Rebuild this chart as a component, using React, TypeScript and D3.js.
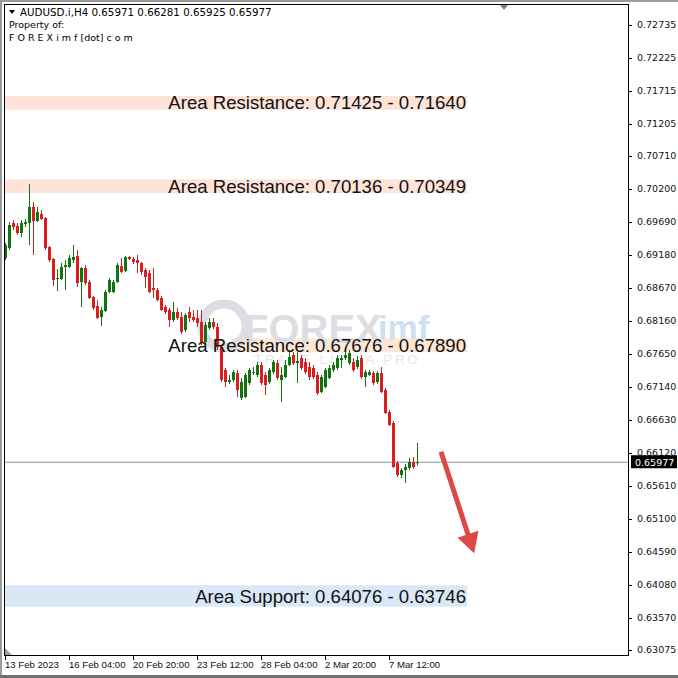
import React from "react";
import * as d3 from "d3";

const opens = [0.69133,0.69288,0.69674,0.69628,0.69520,0.69659,0.69674,0.69922,0.69705,0.69813,0.69751,0.69303,0.69118,0.68809,0.68809,0.68994,0.68994,0.69102,0.69164,0.68762,0.68979,0.68762,0.68531,0.68391,0.68221,0.68314,0.68608,0.68608,0.68762,0.69009,0.68932,0.69149,0.69118,0.69102,0.69056,0.68948,0.68901,0.68670,0.68639,0.68515,0.68376,0.68330,0.68175,0.68299,0.68221,0.68021,0.68299,0.68221,0.68206,0.68144,0.67835,0.68051,0.68144,0.68067,0.67758,0.67402,0.67217,0.67248,0.67356,0.66970,0.66985,0.67201,0.67356,0.67325,0.67480,0.67325,0.67217,0.67371,0.67510,0.67248,0.67294,0.67480,0.67634,0.67510,0.67588,0.67526,0.67449,0.67433,0.67325,0.67062,0.67139,0.67279,0.67402,0.67433,0.67557,0.67588,0.67510,0.67526,0.67449,0.67588,0.67294,0.67325,0.67356,0.67217,0.67356,0.67093,0.66753,0.66583,0.65965,0.65779,0.65856,0.65887,0.65981,0.65971];
const highs = [0.69365,0.69690,0.69721,0.69674,0.69721,0.69736,0.70277,0.69999,0.69922,0.69875,0.69767,0.69319,0.69133,0.68963,0.69056,0.69102,0.69180,0.69334,0.69257,0.68994,0.69025,0.68793,0.68546,0.68484,0.68376,0.68639,0.68824,0.68793,0.69056,0.69133,0.69164,0.69164,0.69149,0.69180,0.69071,0.68979,0.68948,0.68979,0.68670,0.68546,0.68407,0.68361,0.68453,0.68361,0.68299,0.68283,0.68376,0.68330,0.68330,0.68330,0.68144,0.68206,0.68206,0.68129,0.67789,0.67433,0.67325,0.67402,0.67402,0.67279,0.67356,0.67433,0.67449,0.67526,0.67526,0.67371,0.67433,0.67557,0.67557,0.67449,0.67557,0.67711,0.67680,0.67680,0.67634,0.67588,0.67526,0.67480,0.67371,0.67325,0.67433,0.67480,0.67526,0.67634,0.67634,0.67680,0.67711,0.67588,0.67619,0.67634,0.67402,0.67402,0.67387,0.67387,0.67449,0.67124,0.66784,0.66614,0.65996,0.65887,0.65950,0.66042,0.66058,0.66281];
const lows = [0.69102,0.69257,0.69566,0.69489,0.69458,0.69612,0.69334,0.69180,0.69690,0.69721,0.69257,0.69071,0.68700,0.68623,0.68793,0.68639,0.68979,0.69056,0.68685,0.68376,0.68716,0.68500,0.68330,0.68190,0.68082,0.68299,0.68592,0.68592,0.68747,0.68901,0.68917,0.69102,0.69040,0.68901,0.68871,0.68670,0.68592,0.68515,0.68469,0.68314,0.68268,0.68067,0.68144,0.68175,0.67959,0.67990,0.68144,0.68144,0.68067,0.67789,0.67804,0.68021,0.68036,0.67711,0.67217,0.67139,0.67186,0.67217,0.66985,0.66939,0.66970,0.67170,0.67325,0.67294,0.67170,0.67016,0.67186,0.67340,0.67248,0.66908,0.67279,0.67464,0.67480,0.67201,0.67402,0.67340,0.67248,0.67263,0.67016,0.67046,0.67124,0.67263,0.67371,0.67402,0.67433,0.67557,0.67480,0.67371,0.67418,0.67263,0.67139,0.67309,0.67170,0.67186,0.67046,0.66722,0.66537,0.65887,0.65748,0.65733,0.65656,0.65856,0.65872,0.65925];
const closes = [0.69334,0.69643,0.69612,0.69520,0.69674,0.69690,0.69922,0.69705,0.69844,0.69736,0.69288,0.69102,0.68793,0.68824,0.68994,0.69025,0.69133,0.69149,0.68747,0.68979,0.68747,0.68515,0.68361,0.68206,0.68330,0.68608,0.68793,0.68762,0.69025,0.68917,0.69149,0.69118,0.69071,0.69056,0.68917,0.68840,0.68608,0.68639,0.68484,0.68330,0.68299,0.68175,0.68299,0.68206,0.67990,0.68252,0.68206,0.68175,0.68129,0.67820,0.68098,0.68144,0.68067,0.67758,0.67248,0.67217,0.67248,0.67371,0.67093,0.67217,0.67325,0.67402,0.67371,0.67480,0.67201,0.67170,0.67402,0.67526,0.67279,0.67325,0.67480,0.67603,0.67510,0.67541,0.67433,0.67371,0.67294,0.67294,0.67046,0.67294,0.67402,0.67433,0.67480,0.67588,0.67588,0.67634,0.67665,0.67402,0.67557,0.67294,0.67371,0.67371,0.67201,0.67356,0.67062,0.66738,0.66552,0.65903,0.65779,0.65856,0.65903,0.65981,0.65903,0.65977];

const yTicks = [0.72735,0.72225,0.71715,0.71205,0.70710,0.70200,0.69690,0.69180,0.68670,0.68160,0.67650,0.67140,0.66630,0.66120,0.65610,0.65100,0.64590,0.64080,0.63570,0.63075];
const xLabels = ["13 Feb 2023","16 Feb 04:00","20 Feb 20:00","23 Feb 12:00","28 Feb 04:00","2 Mar 20:00","7 Mar 12:00"];
const xLabelIdx = [0,16,32,48,64,80,96];

const zoneLow = [0.71425,0.70136,0.67676,0.63746];
const zoneHigh = [0.71640,0.70349,0.67890,0.64076];
const zoneText = ["Area Resistance: 0.71425 - 0.71640","Area Resistance: 0.70136 - 0.70349","Area Resistance: 0.67676 - 0.67890","Area Support: 0.64076 - 0.63746"];
const zoneFill = ["#fde3d8","#fde3d8","#fde6d4","#d8e8f7"];
const zoneStart = [4,4,232,4];

const lastPrice = 0.65977;
const arrowFrom = [109, 0.6614];
const arrowTo = [117.3, 0.6457];

export default function App() {
  const L = 4, R = 628, T = 4, B = 655;
  const x = d3.scaleLinear().domain([0, 103]).range([5, 417]);
  const y = d3.scaleLinear().domain([0.63075, 0.72735]).range([650, 25]);
  const axisFont = "'DejaVu Sans', Tahoma, sans-serif";
  const xFont = "'Liberation Sans', Arial, sans-serif";
  const green = "#137313";
  const red = "#d81e1e";

  const ax1 = x(arrowFrom[0]), ay1 = y(arrowFrom[1]);
  const ax2 = x(arrowTo[0]), ay2 = y(arrowTo[1]);
  const ang = Math.atan2(ay2 - ay1, ax2 - ax1);
  const hl = 20, hw = 11;
  const bx = ax2 - hl * Math.cos(ang), by = ay2 - hl * Math.sin(ang);
  const px = -Math.sin(ang), py = Math.cos(ang);

  return (
    <svg width={678} height={678} style={{ position: "absolute", left: 0, top: 0, background: "#fff" }}>
      <rect x={0} y={0} width={678} height={678} fill="#fff" />
      <rect x={0} y={0} width={678} height={2} fill="#9a9a9a" />
      <rect x={0} y={0} width={2} height={678} fill="#9a9a9a" />
      <rect x={0} y={675} width={678} height={3} fill="#6f6f6f" />

      {zoneText.map((t, i) => (
        <rect key={"z" + i} x={zoneStart[i]} y={y(zoneHigh[i])} width={467 - zoneStart[i]} height={y(zoneLow[i]) - y(zoneHigh[i])} fill={zoneFill[i]} />
      ))}

      {/* watermark */}
      <g>
        <circle cx={224} cy={326} r={22} fill="none" stroke="#dcdee3" strokeWidth={9} />
        <text x={244} y={343} fontFamily="'Liberation Sans', Arial, sans-serif" fontWeight="bold" fontSize={40} fill="#dcdee3">FOREX</text>
        <text x={378} y={339} fontFamily="'Liberation Sans', Arial, sans-serif" fontWeight="bold" fontSize={34} fill="#cfe1f1">imf</text>
        <text x={254} y={364} fontFamily="'Liberation Sans', Arial, sans-serif" fontSize={13} letterSpacing={3} fill="#e6e6e6">TRADE LIKE A PRO</text>
      </g>

      <line x1={L} x2={R} y1={y(lastPrice)} y2={y(lastPrice)} stroke="#8a98a0" strokeWidth={1} />

      {closes.map((c, i) => {
        const o = opens[i];
        const col = c >= o ? green : red;
        const cx = Math.round(x(i)) + 0.5;
        const top = y(Math.max(o, c)), bot = y(Math.min(o, c));
        return (
          <g key={i}>
            <line x1={cx} x2={cx} y1={y(highs[i])} y2={y(lows[i])} stroke={col} strokeWidth={1} />
            <rect x={cx - 1.5} y={top} width={3} height={Math.max(1, bot - top)} fill={col} />
          </g>
        );
      })}

      {zoneText.map((t, i) => (
        <text key={"t" + i} x={466} y={(y(zoneHigh[i]) + y(zoneLow[i])) / 2} dy="0.36em" textAnchor="end"
          fontFamily="'Liberation Sans', Arial, sans-serif" fontSize={18.6} fill="#111">{t}</text>
      ))}

      {/* arrow */}
      <line x1={ax1} y1={ay1} x2={bx + 2 * Math.cos(ang)} y2={by + 2 * Math.sin(ang)} stroke="#e04848" strokeWidth={5} />
      <polygon points={`${ax2},${ay2} ${bx + px * hw},${by + py * hw} ${bx - px * hw},${by - py * hw}`} fill="#e04848" />

      {/* frame */}
      <rect x={L + 0.5} y={T + 0.5} width={R - L} height={B - T} fill="none" stroke="#000" strokeWidth={1} />
      <polygon points="500,5 508,5 504,10" fill="#7d8087" />
      <polygon points="5,648 5,655 12,655" fill="#9aa0a8" />

      {yTicks.map((v) => (
        <g key={v}>
          <line x1={R + 1} x2={R + 4} y1={Math.round(y(v)) + 0.5} y2={Math.round(y(v)) + 0.5} stroke="#000" />
          <text x={R + 9} y={y(v)} dy="0.35em" fontFamily={axisFont} fontSize={9.5} fill="#111">{v.toFixed(5)}</text>
        </g>
      ))}

      <rect x={R + 3} y={y(lastPrice) - 7} width={46} height={13} fill="#000" />
      <text x={R + 7} y={y(lastPrice)} dy="0.35em" fontFamily={axisFont} fontSize={9.5} fill="#fff">{lastPrice.toFixed(5)}</text>

      {xLabels.map((t, i) => (
        <g key={t}>
          <line x1={Math.round(x(xLabelIdx[i])) + 0.5} x2={Math.round(x(xLabelIdx[i])) + 0.5} y1={B} y2={B + 5} stroke="#000" />
          <text x={x(xLabelIdx[i])} y={668} fontFamily={xFont} fontSize={9.6} fill="#111">{t}</text>
        </g>
      ))}

      {/* header */}
      <polygon points="9,10 15,10 12,14" fill="#000" />
      <text x={20} y={16} fontFamily={axisFont} fontSize={10.3} fill="#000">AUDUSD.i,H4  0.65971 0.66281 0.65925 0.65977</text>
      <text x={9} y={28} fontFamily={axisFont} fontSize={9.5} fill="#000">Property of:</text>
      <text x={9} y={41} fontFamily={axisFont} fontSize={9.5} fill="#000">F O R E X i m f [dot] c o m</text>
    </svg>
  );
}
